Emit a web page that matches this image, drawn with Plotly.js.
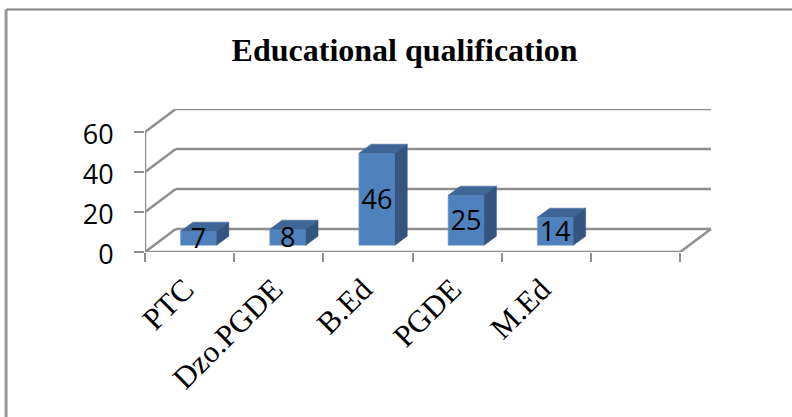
<!DOCTYPE html>
<html>
<head>
<meta charset="utf-8">
<script src="https://cdn.plot.ly/plotly-3.0.1.min.js"></script>
<style>html,body{margin:0;padding:0;background:#fff}</style>
</head>
<body>
<div id="chart" style="width:792px;height:417px"></div>
<script>
const categories = ['PTC', 'Dzo.PGDE', 'B.Ed', 'PGDE', 'M.Ed'];
const counts = [7, 8, 46, 25, 14];
const valueTicks = [0, 20, 40, 60];
const slotCount = 6;

// oblique projection of the 3D chart box into axis units
const depthX = 0.345, depthY = 11.5;
const barFront = 0.29, barBack = 0.69, barWidth = 0.404;
const gridColor = '#8f8f8f';
function proj(cat, val, depth) { return [cat + depth * depthX, val + depth * depthY]; }

function line(a, b) {
  return {type:'line', xref:'x', yref:'y', layer:'below',
    x0:a[0], y0:a[1], x1:b[0], y1:b[1], line:{color:gridColor, width:2.5}};
}
const shapes = [];
valueTicks.forEach(v => {
  shapes.push(line(proj(0, v, 0), proj(0, v, 1)));
  shapes.push(line(proj(0, v, 1), proj(slotCount, v, 1)));
});
shapes.push(line(proj(0, 0, 0), proj(0, valueTicks[valueTicks.length - 1], 0)));
shapes.push(line(proj(0, 0, 0), proj(slotCount, 0, 0)));
shapes.push(line(proj(slotCount, 0, 0), proj(slotCount, 0, 1)));
// outer frame of the picture
shapes.push({type:'line', xref:'paper', yref:'paper', x0:-0.245, x1:1.15, y0:1.696, y1:1.696, line:{color:'#808080', width:2}});
shapes.push({type:'line', xref:'paper', yref:'paper', x0:-0.245, x1:-0.245, y0:1.696, y1:-1.16, line:{color:'#989898', width:3}});

const base = barFront * depthY;
const centers = categories.map((_, i) => i + 0.5);
const topX = [], topY = [], sideX = [], sideY = [];
counts.forEach((v, i) => {
  const l = centers[i] - barWidth / 2, r = centers[i] + barWidth / 2;
  const A = proj(l, v, barFront), B = proj(r, v, barFront), C = proj(r, v, barBack), D = proj(l, v, barBack);
  [A, B, C, D, A].forEach(p => { topX.push(p[0]); topY.push(p[1]); });
  topX.push(null); topY.push(null);
  const E = proj(r, 0, barFront), F = proj(r, 0, barBack);
  [B, E, F, C, B].forEach(p => { sideX.push(p[0]); sideY.push(p[1]); });
  sideX.push(null); sideY.push(null);
});

const traces = [
  {type:'bar', x:centers.map(c => c + barFront * depthX), y:counts, base:base, width:barWidth,
   marker:{color:'#4f81bd', line:{color:'#7fa3d0', width:0.6}}, hoverinfo:'skip'},
  {type:'scatter', mode:'lines', x:topX, y:topY, fill:'toself', fillcolor:'#3e6797',
   line:{color:'#3e6797', width:0.5}, hoverinfo:'skip'},
  {type:'scatter', mode:'lines', x:sideX, y:sideY, fill:'toself', fillcolor:'#335580',
   line:{color:'#335580', width:0.5}, hoverinfo:'skip'},
  {type:'scatter', mode:'text', x:centers.map(c => c + barFront * depthX),
   y:counts.map(v => base + v / 2 - 1.6), text:counts.map(String), textposition:'middle center',
   textfont:{family:'"Open Sans", sans-serif', size:27, color:'#000'}, cliponaxis:false, hoverinfo:'skip'}
];

const layout = {
  width:792, height:417, showlegend:false, barmode:'overlay',
  paper_bgcolor:'#fff', plot_bgcolor:'#fff',
  margin:{l:145, r:80, t:109, b:165},
  title:{text:'<b>Educational qualification</b>', x:404.5/792, xanchor:'center', y:0.88, yanchor:'middle',
    font:{family:'"Liberation Serif", serif', size:32, color:'#000'}},
  xaxis:{range:[0, 567/89.2], tickmode:'array', tickvals:centers, ticktext:categories,
    tickangle:-45, ticks:'', showgrid:false, zeroline:false, showline:false,
    ticklabelstandoff:12, ticklabelshift:-5,
    tickfont:{family:'"Liberation Serif", serif', size:31, color:'#000'},
    minor:{tickmode:'array', tickvals:[0,1,2,3,4,5,6], ticks:'outside', ticklen:9, tickwidth:2, tickcolor:gridColor, showgrid:false}},
  yaxis:{range:[0, 60 + depthY], tickmode:'array', tickvals:valueTicks, ticks:'outside', ticklen:10, tickwidth:2,
    tickcolor:gridColor, showgrid:false, zeroline:false, showline:false, ticklabelstandoff:15, ticklabelshift:3,
    tickfont:{family:'"Open Sans", sans-serif', size:27, color:'#000'}},
  shapes:shapes
};
Plotly.newPlot('chart', traces, layout, {displayModeBar:false, staticPlot:true});
</script>
</body>
</html>
